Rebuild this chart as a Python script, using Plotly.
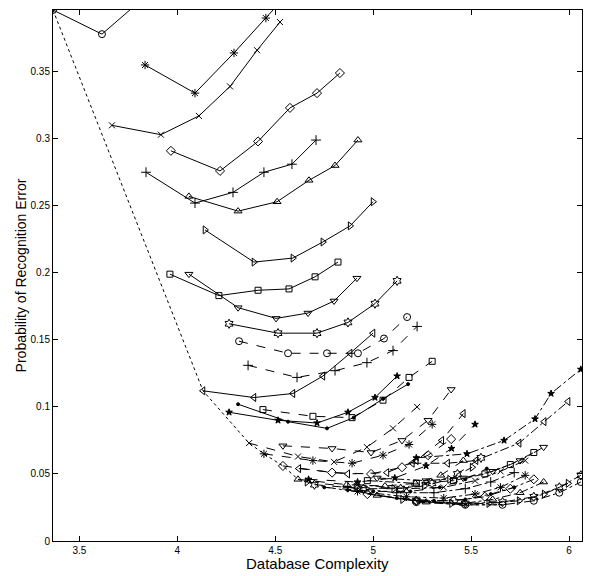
import plotly.graph_objects as go

# ---------------- data ----------------
marker_order = ['.', 'o', 'x', '+', '*', 's', 'd', 'v', '^', '<', '>', 'p', 'h']

# solid curves
solid_x = {
    '.': [4.310, 4.565, 4.764, 4.900, 5.050, 5.178],
    'o': [3.365, 3.615, 3.860, 4.060, 4.220],
    'x': [3.666, 3.916, 4.110, 4.269, 4.407, 4.524],
    '+': [3.840, 4.090, 4.284, 4.442, 4.585, 4.708],
    '*': [3.835, 4.090, 4.289, 4.452, 4.580, 4.700],
    's': [3.962, 4.212, 4.412, 4.570, 4.703, 4.820],
    'd': [3.967, 4.218, 4.412, 4.575, 4.713, 4.830],
    'v': [4.059, 4.310, 4.504, 4.667, 4.800, 4.917],
    '^': [4.059, 4.310, 4.509, 4.672, 4.805, 4.922],
    '<': [4.131, 4.391, 4.590, 4.743, 4.882, 4.999],
    '>': [4.141, 4.391, 4.590, 4.743, 4.882, 4.999],
    'p': [4.264, 4.514, 4.713, 4.871, 5.009, 5.122],
    'h': [4.264, 4.514, 4.713, 4.871, 5.009, 5.122],
}
solid_y = {
    '.': [0.102, 0.089, 0.084, 0.092, 0.106, 0.117],
    'o': [0.396, 0.378, 0.409, 0.440, 0.470],
    'x': [0.310, 0.303, 0.317, 0.339, 0.366, 0.387],
    '+': [0.275, 0.252, 0.260, 0.275, 0.281, 0.299],
    '*': [0.355, 0.334, 0.364, 0.390, 0.410, 0.430],
    's': [0.199, 0.183, 0.187, 0.188, 0.197, 0.208],
    'd': [0.291, 0.276, 0.298, 0.323, 0.334, 0.349],
    'v': [0.199, 0.174, 0.166, 0.170, 0.179, 0.196],
    '^': [0.257, 0.246, 0.253, 0.269, 0.280, 0.299],
    '<': [0.112, 0.107, 0.110, 0.123, 0.140, 0.155],
    '>': [0.232, 0.208, 0.211, 0.223, 0.235, 0.253],
    'p': [0.096, 0.090, 0.088, 0.096, 0.107, 0.123],
    'h': [0.162, 0.155, 0.155, 0.163, 0.177, 0.194],
}

# dashed curves
dash_x = {
    '.': [4.750, 5.000, 5.190, 5.340, 5.470, 5.580],
    'o': [4.315, 4.565, 4.764, 4.922, 5.055, 5.173],
    'x': [4.366, 4.616, 4.800, 4.968, 5.101, 5.224],
    '+': [4.361, 4.611, 4.805, 4.968, 5.101, 5.224],
    '*': [4.442, 4.692, 4.892, 5.050, 5.183, 5.301],
    's': [4.437, 4.692, 4.892, 5.050, 5.183, 5.301],
    'd': [4.539, 4.790, 4.989, 5.147, 5.280, 5.398],
    'v': [4.539, 4.790, 4.989, 5.147, 5.280, 5.398],
    '^': [4.616, 4.865, 5.060, 5.215, 5.345, 5.460],
    '<': [4.620, 4.870, 5.070, 5.220, 5.350, 5.460],
    '>': [4.662, 4.912, 5.105, 5.260, 5.390, 5.505],
    'p': [4.670, 4.920, 5.110, 5.270, 5.400, 5.520],
    'h': [4.700, 4.950, 5.140, 5.300, 5.430, 5.550],
}
dash_y = {
    '.': [0.040, 0.037, 0.037, 0.040, 0.046, 0.054],
    'o': [0.149, 0.140, 0.140, 0.140, 0.151, 0.167],
    'x': [0.073, 0.063, 0.059, 0.070, 0.084, 0.100],
    '+': [0.131, 0.122, 0.127, 0.133, 0.142, 0.160],
    '*': [0.065, 0.060, 0.058, 0.064, 0.072, 0.087],
    's': [0.098, 0.093, 0.092, 0.105, 0.122, 0.134],
    'd': [0.056, 0.051, 0.050, 0.055, 0.064, 0.076],
    'v': [0.071, 0.069, 0.066, 0.075, 0.090, 0.113],
    '^': [0.046, 0.042, 0.041, 0.043, 0.049, 0.060],
    '<': [0.054, 0.050, 0.051, 0.060, 0.075, 0.095],
    '>': [0.044, 0.040, 0.039, 0.041, 0.046, 0.055],
    'p': [0.046, 0.044, 0.047, 0.056, 0.069, 0.087],
    'h': [0.042, 0.039, 0.039, 0.043, 0.050, 0.062],
}

# dash-dot curves
dashdot_x = {
    '.': [4.870, 5.120, 5.310, 5.470, 5.600, 5.720],
    'o': [5.220, 5.470, 5.660, 5.820, 5.950, 6.060],
    'x': [4.920, 5.170, 5.360, 5.520, 5.650, 5.776],
    '+': [4.870, 5.120, 5.310, 5.470, 5.600, 5.720],
    '*': [4.920, 5.170, 5.360, 5.520, 5.650, 5.776],
    's': [4.970, 5.220, 5.410, 5.570, 5.700, 5.820],
    'd': [4.970, 5.220, 5.410, 5.570, 5.700, 5.820],
    'v': [5.020, 5.270, 5.460, 5.610, 5.750, 5.870],
    '^': [5.020, 5.270, 5.460, 5.610, 5.750, 5.870],
    '<': [5.200, 5.380, 5.525, 5.745, 5.873, 5.995],
    '>': [5.150, 5.400, 5.590, 5.745, 5.873, 5.995],
    'p': [5.220, 5.479, 5.668, 5.826, 5.908, 6.060],
    'h': [5.220, 5.470, 5.660, 5.820, 5.950, 6.060],
}
dashdot_y = {
    '.': [0.038, 0.032, 0.030, 0.031, 0.035, 0.040],
    'o': [0.029, 0.027, 0.027, 0.030, 0.036, 0.044],
    'x': [0.042, 0.039, 0.040, 0.045, 0.052, 0.060],
    '+': [0.040, 0.036, 0.036, 0.039, 0.044, 0.051],
    '*': [0.037, 0.033, 0.032, 0.035, 0.040, 0.049],
    's': [0.045, 0.043, 0.045, 0.050, 0.057, 0.066],
    'd': [0.035, 0.030, 0.030, 0.033, 0.039, 0.046],
    'v': [0.047, 0.045, 0.047, 0.052, 0.060, 0.070],
    '^': [0.034, 0.029, 0.028, 0.031, 0.036, 0.044],
    '<': [0.058, 0.058, 0.060, 0.073, 0.089, 0.104],
    '>': [0.031, 0.028, 0.028, 0.030, 0.035, 0.043],
    'p': [0.062, 0.065, 0.075, 0.091, 0.110, 0.128],
    'h': [0.030, 0.028, 0.029, 0.033, 0.040, 0.049],
}

# lower envelope (dotted)
envelope_x = [3.365, 4.131, 4.366, 4.442, 4.539, 4.616, 4.662, 4.764,
              4.950, 5.150, 5.350, 5.500, 5.660]
envelope_y = [0.396, 0.112, 0.073, 0.065, 0.056, 0.046, 0.044, 0.040,
              0.036, 0.031, 0.028, 0.027, 0.027]

x_ticks = [3.5, 4, 4.5, 5, 5.5, 6]
y_ticks = [0, 0.05, 0.1, 0.15, 0.2, 0.25, 0.3, 0.35]

# ---------------- styling ----------------
symbols = {
    '.': ('circle', 3), 'o': ('circle-open', 7), 'x': ('x-thin-open', 6),
    '+': ('cross-thin-open', 7), '*': ('asterisk-open', 7),
    's': ('square-open', 6), 'd': ('diamond-open', 7),
    'v': ('triangle-down-open', 7), '^': ('triangle-up-open', 7),
    '<': ('triangle-left-open', 7), '>': ('triangle-right-open', 7),
    'p': ('star', 5), 'h': ('hexagram-open', 7),
}

fig = go.Figure()

fig.add_trace(go.Scatter(x=envelope_x, y=envelope_y, mode='lines',
                         line=dict(color='black', width=1, dash='dot'),
                         showlegend=False, hoverinfo='skip'))

for xs, ys, dash in [(solid_x, solid_y, 'solid'),
                     (dash_x, dash_y, 'dash'),
                     (dashdot_x, dashdot_y, 'dashdot')]:
    for m in marker_order:
        sym, sz = symbols[m]
        fig.add_trace(go.Scatter(
            x=xs[m], y=ys[m], mode='lines+markers',
            line=dict(color='black', width=1, dash=dash),
            marker=dict(symbol=sym, size=sz, color='black',
                        line=dict(color='black', width=1)),
            showlegend=False))

axis_common = dict(showline=True, linecolor='black', linewidth=1,
                   mirror='ticks', ticks='inside', ticklen=5,
                   tickcolor='black', showgrid=False, zeroline=False,
                   tickfont=dict(family='Liberation Sans, Arial', size=10,
                                 color='black'))

fig.update_xaxes(range=[3.365, 6.066], tickvals=x_ticks,
                 ticktext=[f'{v:g}' for v in x_ticks], **axis_common)
fig.update_yaxes(range=[0, 0.396], tickvals=y_ticks,
                 ticktext=[f'{v:g}' for v in y_ticks],
                 title=dict(text='Probability of Recognition Error', standoff=0,
                            font=dict(family='Liberation Sans, Arial',
                                      size=14, color='black')),
                 **axis_common)

fig.add_annotation(text='Database Complexity', xref='paper', yref='paper',
                   x=0.5, y=0, yshift=-22, yanchor='middle', showarrow=False,
                   font=dict(family='Liberation Sans, Arial', size=15,
                             color='black'))

# the page body adds an 8px offset; margins compensate for it
fig.update_layout(width=596, height=576,
                  margin=dict(l=45, r=22, t=2, b=43),
                  paper_bgcolor='white', plot_bgcolor='white',
                  showlegend=False)

fig.write_html('out.html')
